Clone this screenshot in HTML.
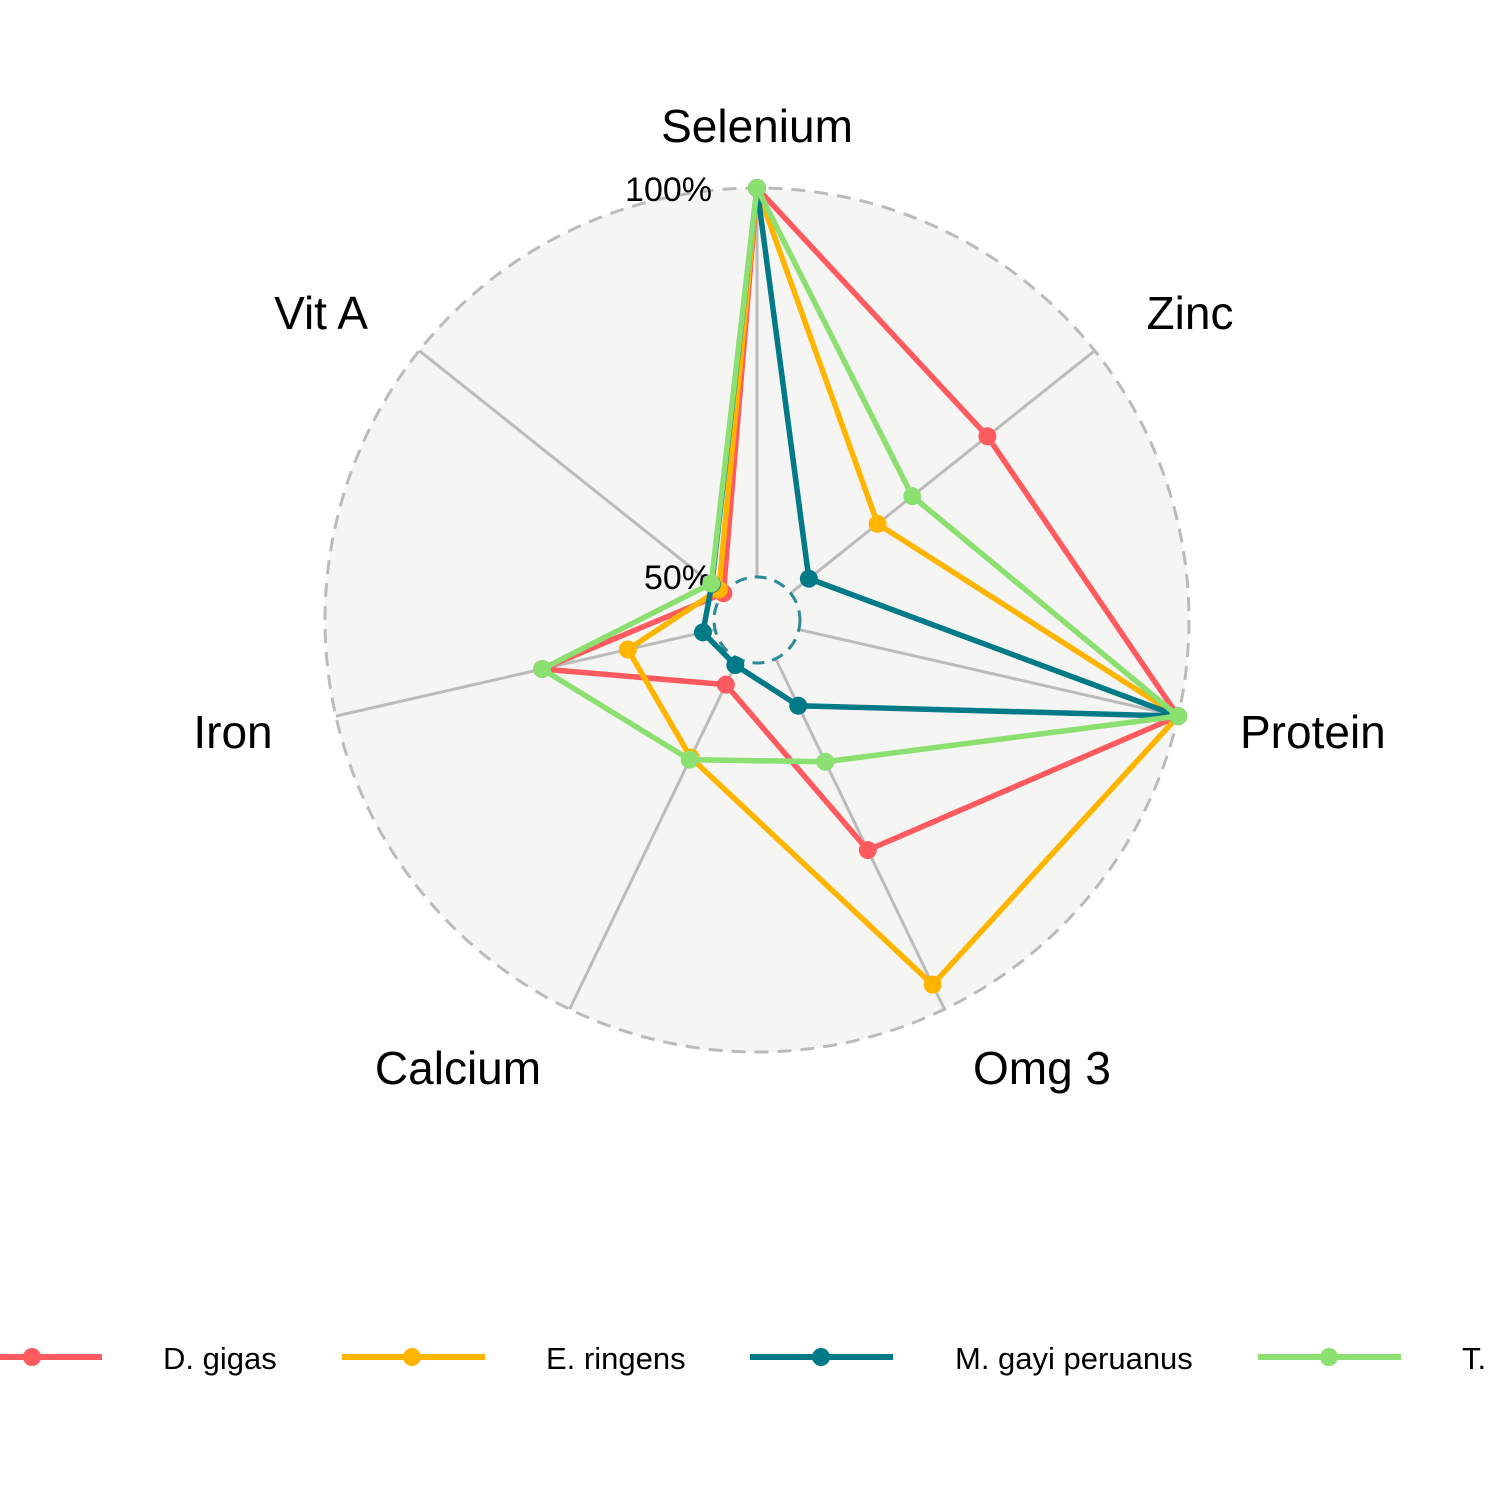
<!DOCTYPE html>
<html><head><meta charset="utf-8"><style>
html,body{margin:0;padding:0;background:#fff;}
svg{display:block;font-family:"Liberation Sans",Arial,sans-serif;}
</style></head><body>
<svg id="chart" width="1500" height="1500" viewBox="0 0 1500 1500">
<g id="grid"></g>
<g id="series"></g>
<g id="labels"></g>
<g id="legend"></g>
</svg>
<script>
const axes = ["Selenium","Zinc","Protein","Omg 3","Calcium","Iron","Vit A"];
const seriesNames = ["D. gigas","E. ringens","M. gayi peruanus","T."];
const dGigas = [1, 0.647, 1, 0.546, 0.074, 0.456, 0.0];
const eRingens = [1, 0.286, 1, 0.93, 0.282, 0.23, 0.015];
const mGayi = [1, 0.06, 1, 0.134, 0.018, 0.032, 0.038];
const tSeries = [1, 0.40, 1, 0.294, 0.288, 0.456, 0.04];
const gridLabels = ["50%","100%"];

const allSeries=[dGigas,eRingens,mGayi,tSeries];
const colors=["#FF5A5F","#FFB400","#007A87","#8CE071"];
const NS="http://www.w3.org/2000/svg";
const cx=757, cy=620, R0=43, R1=432;
function rad(v){return R0+v*(R1-R0);}
function ang(i){return Math.PI/2 - i*2*Math.PI/axes.length;}
function pt(i,v){const r=rad(v),a=ang(i);return [cx+r*Math.cos(a), cy-r*Math.sin(a)];}
function mk(tag,attrs,parent){const e=document.createElementNS(NS,tag);for(const k in attrs)e.setAttribute(k,attrs[k]);parent.appendChild(e);return e;}

const grid=document.getElementById('grid');
let c=mk('circle',{cx:cx,cy:cy,r:R1,fill:'#F5F5F3',stroke:'#BBBBBB','stroke-width':3,'stroke-dasharray':'14,9'},grid);


axes.forEach((a,i)=>{
  const p0=pt(i,0),p1=pt(i,1);
  const l=mk('line',{x1:p0[0],y1:p0[1],x2:p1[0],y2:p1[1],stroke:'#BBBBBB','stroke-width':3},grid);
  
  
});
c=mk('circle',{cx:cx,cy:cy,r:R0,fill:'none',stroke:'#2E8A94','stroke-width':3,'stroke-dasharray':'12,8'},grid);


let t=mk('text',{x:712,y:589,'font-size':34,'text-anchor':'end',fill:'#000'},grid);
t.textContent=gridLabels[0];


t=mk('text',{x:712,y:201,'font-size':34,'text-anchor':'end',fill:'#000'},grid);
t.textContent=gridLabels[1];



const sg=document.getElementById('series');
allSeries.forEach((vals,s)=>{
  const pts=vals.map((v,i)=>pt(i,v));
  const pg=mk('polygon',{points:pts.map(p=>p.join(',')).join(' '),fill:'none',stroke:colors[s],'stroke-width':5.5,'stroke-linejoin':'round'},sg);
  
  
  pts.forEach((p,i)=>{
    const d=mk('circle',{cx:p[0],cy:p[1],r:9,fill:colors[s]},sg);
    
    
  });
});

const lg=document.getElementById('labels');
const lpos=[[757,142,'middle'],[1190,329,'middle'],[1240,748,'start'],[1042,1084,'middle'],[458,1084,'middle'],[233,748,'middle'],[321,329,'middle']];
axes.forEach((a,i)=>{
  const e=mk('text',{x:lpos[i][0],y:lpos[i][1],'font-size':46,'text-anchor':lpos[i][2],fill:'#000'},lg);
  e.textContent=a;
  
  
});

const leg=document.getElementById('legend');
const lx=[[-40,102,32,163],[342,485,412,546],[750,893,821,955],[1258,1401,1329,1462]];
seriesNames.forEach((n,s)=>{
  const g=mk('g',{},leg);
  
  
  mk('line',{x1:lx[s][0],y1:1357,x2:lx[s][1],y2:1357,stroke:colors[s],'stroke-width':6},g);
  mk('circle',{cx:lx[s][2],cy:1357,r:9,fill:colors[s]},g);
  const e=mk('text',{x:lx[s][3],y:1369,'font-size':31,fill:'#000'},g);
  e.textContent=n;
});
</script>
</body></html>
